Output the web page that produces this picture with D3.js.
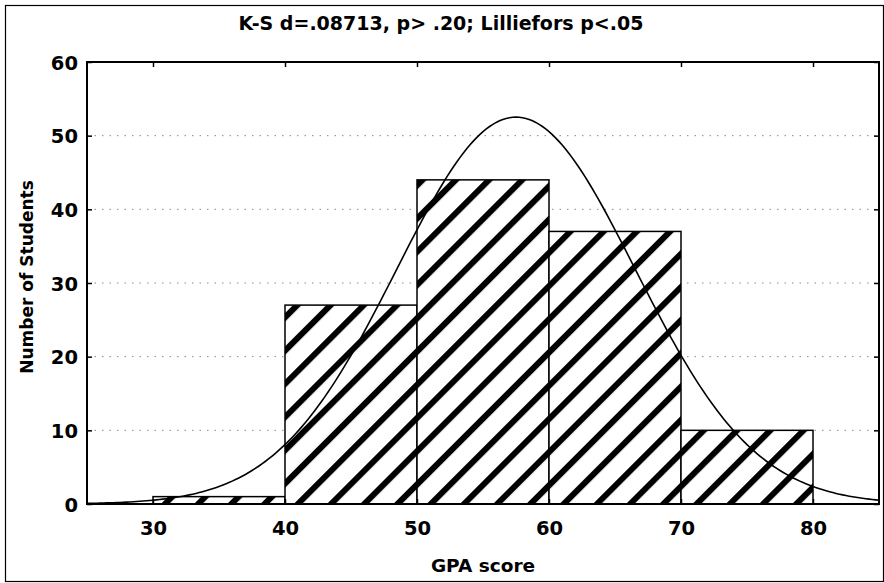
<!DOCTYPE html>
<html>
<head>
<meta charset="utf-8">
<script src="https://cdn.jsdelivr.net/npm/d3@7/dist/d3.min.js"></script>
<style>
  html, body { margin: 0; padding: 0; background: #fff; }
  svg { display: block; font-family: "DejaVu Sans", "Liberation Sans", Arial, sans-serif; }
</style>
</head>
<body>
<svg id="chart" width="884" height="583"></svg>
<script>
// ---- data ----
const binStarts = [30, 40, 50, 60, 70];
const binEnds   = [40, 50, 60, 70, 80];
const counts    = [1, 27, 44, 37, 10];
const xTicks = [30, 40, 50, 60, 70, 80];
const yTicks = [0, 10, 20, 30, 40, 50, 60];
const titleText = "K-S d=.08713, p> .20; Lilliefors p<.05";
const xTitle = "GPA score";
const yTitle = "Number of Students";
// fitted normal curve parameters
const fitMean = 57.5;
const fitSD = 9.04;
const fitN = 119;
const binWidth = 10;

// ---- layout ----
const W = 884, H = 583;
const m = { left: 87, right: 5, top: 62, bottom: 79 };
const svg = d3.select("#chart");
const FONT = "DejaVu Sans, Liberation Sans, Arial, sans-serif";

const x = d3.scaleLinear().domain([25, 85]).range([m.left, W - m.right]);
const y = d3.scaleLinear().domain([0, 60]).range([H - m.bottom, m.top]);

// outer frame
svg.append("rect").attr("x", 5.5).attr("y", 5.5).attr("width", W - 6).attr("height", H - 7)
  .attr("fill", "none").attr("stroke", "#000").attr("stroke-width", 1.2);

// hatch pattern
const defs = svg.append("defs");
const pat = defs.append("pattern").attr("id", "hatch").attr("patternUnits", "userSpaceOnUse")
  .attr("width", 23.5).attr("height", 23.5).attr("patternTransform", "rotate(45)");
pat.append("rect").attr("width", 23.5).attr("height", 23.5).attr("fill", "#fff");
pat.append("rect").attr("x", 0).attr("y", 0).attr("width", 6).attr("height", 23.5).attr("fill", "#000");

// gridlines
svg.append("g").selectAll("line").data(yTicks.filter(d => d > 0 && d < 60)).join("line")
  .attr("x1", x(25)).attr("x2", x(85)).attr("y1", d => y(d)).attr("y2", d => y(d))
  .attr("stroke", "#888").attr("stroke-width", 1).attr("stroke-dasharray", "1.5,6");

// bars
svg.append("g").selectAll("rect").data(counts).join("rect")
  .attr("x", (d, i) => x(binStarts[i]))
  .attr("width", (d, i) => x(binEnds[i]) - x(binStarts[i]))
  .attr("y", d => y(d))
  .attr("height", d => y(0) - y(d))
  .attr("fill", "url(#hatch)")
  .attr("stroke", "#000").attr("stroke-width", 1.5);

// normal curve
const curveXs = d3.range(25, 85.01, 0.25);
const normal = v => fitN * binWidth / (fitSD * Math.sqrt(2 * Math.PI)) *
  Math.exp(-0.5 * Math.pow((v - fitMean) / fitSD, 2));
svg.append("path").datum(curveXs)
  .attr("d", d3.line().x(d => x(d)).y(d => y(normal(d))))
  .attr("fill", "none").attr("stroke", "#000").attr("stroke-width", 1.6);

// plot frame
svg.append("rect").attr("x", x(25)).attr("y", y(60)).attr("width", x(85) - x(25)).attr("height", y(0) - y(60))
  .attr("fill", "none").attr("stroke", "#000").attr("stroke-width", 2);

// axes (inward ticks)
const axL = svg.append("g").attr("transform", `translate(${x(25)},0)`)
  .call(d3.axisLeft(y).tickValues(yTicks).tickSize(-5).tickPadding(9).tickFormat(d3.format("d")));
const axR = svg.append("g").attr("transform", `translate(${x(85)},0)`)
  .call(d3.axisRight(y).tickValues(yTicks).tickSize(-5).tickFormat(""));
const axB = svg.append("g").attr("transform", `translate(0,${y(0)})`)
  .call(d3.axisBottom(x).tickValues(xTicks).tickSize(-5).tickPadding(17).tickFormat(d3.format("d")));
const axT = svg.append("g").attr("transform", `translate(0,${y(60)})`)
  .call(d3.axisTop(x).tickValues(xTicks).tickSize(-5).tickFormat(""));
[axL, axR, axB, axT].forEach(a => {
  a.select(".domain").remove();
  a.selectAll(".tick line").attr("stroke", "#000").attr("stroke-width", 1.5);
  a.selectAll("text").attr("font-size", 19.5).attr("font-weight", "bold").attr("fill", "#000")
    .attr("font-family", FONT);
});
axL.selectAll("text").attr("dy", "0.36em");

// titles
svg.append("text").attr("x", 441).attr("y", 30).attr("text-anchor", "middle")
  .attr("font-size", 19).attr("font-weight", "bold").text(titleText);
svg.append("text").attr("x", (x(25) + x(85)) / 2).attr("y", 572).attr("text-anchor", "middle")
  .attr("font-size", 18.5).attr("font-weight", "bold").text(xTitle);
svg.append("text").attr("transform", `translate(33,${(y(0) + y(60)) / 2 - 6}) rotate(-90)`)
  .attr("text-anchor", "middle").attr("font-size", 17).attr("font-weight", "bold").text(yTitle);
</script>
</body>
</html>
